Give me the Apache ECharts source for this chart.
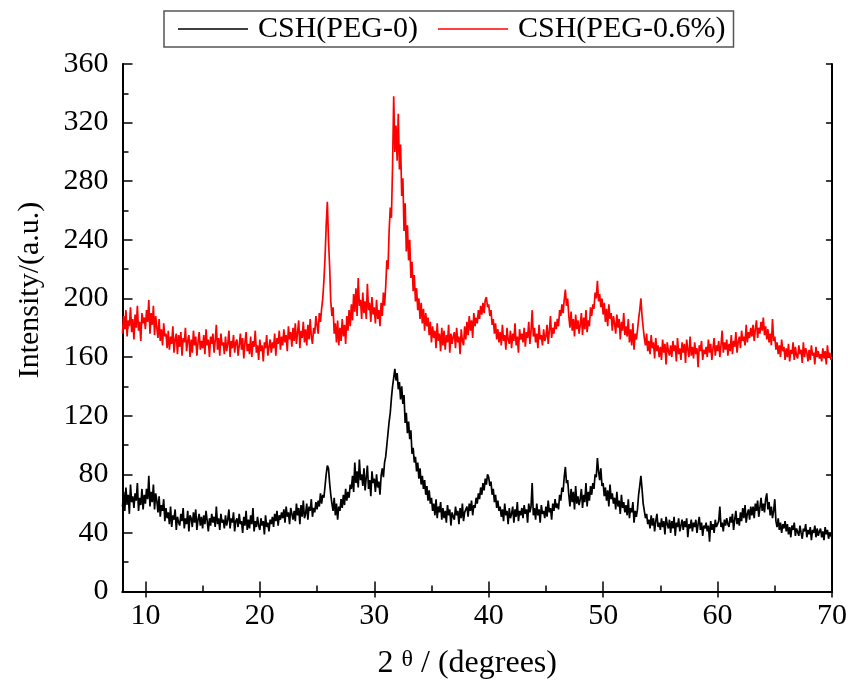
<!DOCTYPE html>
<html>
<head>
<meta charset="utf-8">
<script src="https://cdn.jsdelivr.net/npm/echarts@6/dist/echarts.min.js"></script>
<style>
  html, body { margin: 0; padding: 0; background: #fff; }
  #chart { width: 851px; height: 680px; }
</style>
</head>
<body>
<div id="chart"></div>
<script>
// 2theta sampling: start 8, step 0.1, up to 70
var xStart = 8
var xStep = 0.1

var xTicks = [10, 20, 30, 40, 50, 60, 70]
var xMinorTicks = [15, 25, 35, 45, 55, 65]
var yTicks = [0, 40, 80, 120, 160, 200, 240, 280, 320, 360]

var seriesNames = ['CSH(PEG-0)', 'CSH(PEG-0.6%)']

// CSH(PEG-0), 10 points per degree
var peg0 = [
  58,68,55,71,60,66,53,73,61,65,
  57,67,62,74,55,64,59,70,56,66,
  60,70,63,79,58,68,61,73,56,67,
  62,54,65,51,59,55,63,48,57,50,
  54,46,58,44,52,49,56,42,51,47,
  45,53,48,57,43,50,46,55,41,52,
  50,44,54,47,56,42,49,53,45,51,
  43,52,46,55,48,41,50,45,53,47,
  51,44,58,46,50,42,53,47,49,43,
  52,45,49,56,43,50,47,54,41,48,
  50,44,53,46,48,40,51,45,55,42,
  49,43,52,46,57,41,48,44,51,45,
  42,50,45,48,39,52,44,47,41,49,
  46,51,44,53,48,55,45,52,49,54,
  50,56,47,58,51,54,46,57,53,49,
  55,48,60,52,57,46,59,51,62,50,
  53,60,49,58,55,63,51,57,54,61,
  56,62,58,67,60,66,64,72,80,86,
  84,74,66,60,55,64,52,60,49,58,
  55,63,57,66,59,70,62,68,64,73,
  70,79,68,88,74,82,71,90,76,80,
  72,84,69,78,86,70,76,65,82,74,
  77,68,80,71,75,66,79,84,78,88,
  92,100,108,116,122,132,140,146,152,144,
  149,138,143,131,140,128,134,115,122,108,
  116,104,110,94,98,88,92,82,88,77,
  84,73,79,70,76,66,72,62,69,60,
  64,55,60,52,63,50,58,54,61,49,
  57,50,55,47,59,52,56,45,54,51,
  49,58,52,55,46,57,50,60,48,54,
  53,58,51,60,55,62,52,59,57,64,
  60,67,63,71,66,74,69,77,73,80,
  78,72,75,66,70,61,66,57,62,55,
  58,51,56,48,60,52,55,46,57,50,
  53,58,47,56,51,61,48,55,52,57,
  50,59,53,56,47,60,54,58,74,52,
  57,49,60,52,56,47,59,53,55,50,
  58,51,62,54,57,49,60,55,63,57,
  60,56,66,62,71,68,78,85,74,76,
  66,58,70,61,68,56,72,60,65,59,
  63,70,57,66,61,74,58,68,62,72,
  66,74,70,80,78,91,82,76,84,72,
  74,65,71,62,69,58,73,63,67,60,
  64,56,68,58,62,53,66,57,61,54,
  59,52,63,50,57,54,61,47,55,51,
  56,66,72,79,70,60,55,50,53,46,
  49,43,52,45,50,41,48,53,44,47,
  42,50,44,48,39,51,46,43,49,40,
  48,43,51,38,47,44,50,41,45,49,
  42,48,44,50,37,46,43,49,41,47,
  44,49,40,46,51,42,47,38,45,43,
  47,41,45,34,48,42,46,40,49,44,
  43,48,58,44,47,41,49,45,50,46,
  44,51,47,53,42,49,55,46,50,45,
  54,48,57,50,59,47,53,56,49,58,
  52,58,50,60,55,62,51,57,64,55,
  60,54,63,67,56,61,52,58,50,55,
  63,48,44,50,42,47,40,46,43,48,
  41,46,39,44,37,45,42,47,38,43,
  44,38,45,40,36,43,41,46,37,42,
  39,44,35,42,40,45,37,43,38,41,
  43,37,41,35,44,39,42,36,40,38,
  37
]

// CSH(PEG-0.6%), 10 points per degree
var peg06 = [
  176,188,179,192,174,185,181,194,177,186,
  172,189,180,195,178,184,171,190,183,187,
  179,192,184,199,176,190,182,195,175,188,
  180,173,186,171,179,168,183,174,176,166,
  178,165,174,169,181,163,172,176,162,175,
  167,177,161,173,170,180,164,171,175,160,
  172,163,178,168,174,161,170,177,165,171,
  166,175,162,179,168,172,160,174,169,176,
  163,171,182,165,173,161,176,168,170,162,
  174,164,169,178,160,171,166,175,163,170,
  172,161,168,176,165,173,159,170,177,164,
  169,162,174,160,171,167,178,163,168,158,
  172,164,168,157,170,166,175,161,167,172,
  163,170,166,176,161,173,169,178,165,174,
  168,179,170,175,164,181,172,177,167,180,
  171,183,169,177,185,166,178,173,184,170,
  179,168,182,172,186,174,169,180,176,188,
  182,176,190,184,193,200,212,228,250,266,
  240,222,198,188,194,176,183,170,185,168,
  180,171,186,174,182,169,188,178,192,181,
  196,185,203,191,207,188,214,195,199,186,
  204,190,198,186,210,192,197,184,201,189,
  194,183,199,186,192,181,197,188,204,195,
  208,226,220,246,262,255,290,338,300,318,
  294,326,288,305,270,282,246,265,232,250,
  226,240,214,225,205,216,198,207,192,200,
  186,197,183,193,178,190,181,187,175,184,
  170,181,173,178,166,183,171,176,164,180,
  168,178,165,175,170,182,163,176,169,174,
  177,166,180,170,174,162,179,171,168,181,
  172,184,175,188,178,185,173,190,181,187,
  183,192,186,195,189,197,190,199,201,194,
  196,188,192,182,186,176,183,172,179,170,
  177,168,182,171,175,165,180,172,169,178,
  166,176,171,183,168,174,163,179,172,176,
  170,180,167,177,173,184,169,178,192,174,
  180,170,176,166,182,172,175,168,179,171,
  174,182,169,178,188,173,180,176,184,179,
  186,181,192,188,196,190,199,206,195,200,
  188,180,191,178,186,174,189,179,185,176,
  182,190,175,187,179,192,177,185,181,194,
  188,196,193,204,200,212,198,203,194,200,
  189,197,184,193,181,196,186,190,178,188,
  183,176,189,180,186,172,184,178,190,175,
  181,174,186,170,179,168,183,165,176,172,
  178,186,192,200,188,180,173,168,176,164,
  171,162,175,166,170,159,173,164,168,160,
  167,158,172,163,169,155,170,164,161,168,
  160,171,164,168,157,173,162,166,158,170,
  163,169,156,172,165,160,174,161,167,159,
  170,162,166,153,168,164,171,158,165,162,
  167,160,172,163,169,158,166,173,161,168,
  164,171,160,168,178,163,170,165,172,161,
  169,164,175,162,171,167,177,163,170,174,
  166,178,171,174,168,182,170,177,173,180,
  174,182,171,179,185,173,180,176,184,178,
  187,175,181,172,179,170,176,168,186,171,
  174,165,170,162,168,160,172,164,167,158,
  166,160,169,157,165,162,170,158,167,161,
  159,168,162,165,156,170,160,166,163,157,
  165,158,168,161,163,155,167,160,164,159,
  162,157,166,159,164,155,168,160,163,158,
  160
]

function pairs(vals) {
  return vals.map(function (v, i) {
    return [+(xStart + i * xStep).toFixed(1), v]
  })
}

var font = '"Liberation Serif", "Times New Roman", serif'
var black = '#000'

var myChart = echarts.init(document.getElementById('chart'))
myChart.setOption({
  animation: false,
  backgroundColor: '#fff',
  grid: { left: 122.5, top: 64, right: 19, bottom: 88.5, outerBoundsMode: 'none' },
  legend: {
    data: seriesNames,
    left: 164,
    top: 11,
    borderColor: '#555',
    borderWidth: 1.5,
    padding: [3, 8, 3, 14],
    icon: 'rect',
    itemWidth: 70,
    itemHeight: 1.5,
    itemGap: 20,
    textStyle: { fontFamily: font, fontSize: 30, color: black, padding: [0, 0, 0, 5] }
  },
  xAxis: [
    {
      type: 'value', min: 8, max: 70, position: 'bottom',
      axisLine: { onZero: false, lineStyle: { color: black, width: 2 } },
      axisTick: { inside: true, length: 10, lineStyle: { color: black, width: 1.5 }, customValues: xTicks },
      axisLabel: { customValues: xTicks, fontFamily: font, fontSize: 30, color: black, margin: 10 },
      splitLine: { show: false },
      name: '2 {t|θ} / (degrees)',
      nameLocation: 'middle',
      nameGap: 56,
      nameTextStyle: { fontFamily: font, fontSize: 32, color: black, padding: [0, 20, 0, 0],
        rich: { t: { fontFamily: font, fontSize: 24, color: black, padding: [0, 0, 8, 0] } } }
    },
    {
      type: 'value', min: 8, max: 70, position: 'bottom',
      axisLine: { show: false },
      axisTick: { inside: true, length: 6, lineStyle: { color: black, width: 1.5 }, customValues: xMinorTicks },
      axisLabel: { show: false },
      splitLine: { show: false }
    },
    {
      type: 'value', min: 8, max: 70, position: 'top',
      axisLine: { lineStyle: { color: black, width: 2 } },
      axisTick: { inside: true, length: 6, lineStyle: { color: black, width: 1.5 }, customValues: xTicks },
      axisLabel: { show: false },
      splitLine: { show: false }
    }
  ],
  yAxis: [
    {
      type: 'value', min: 0, max: 360, interval: 40, position: 'left',
      axisLine: { lineStyle: { color: black, width: 2 } },
      axisTick: { inside: true, length: 10, lineStyle: { color: black, width: 1.5 } },
      minorTick: { show: true, splitNumber: 2, length: 6, lineStyle: { color: black, width: 1.5 } },
      axisLabel: { fontFamily: font, fontSize: 30, color: black, margin: 14,
        formatter: function (v) { return yTicks.indexOf(v) >= 0 ? String(v) : '' } },
      splitLine: { show: false }
    },
    {
      type: 'value', min: 0, max: 360, interval: 40, position: 'right',
      axisLine: { lineStyle: { color: black, width: 2 } },
      axisTick: { inside: true, length: 6, lineStyle: { color: black, width: 1.5 } },
      axisLabel: { show: false },
      splitLine: { show: false }
    }
  ],
  graphic: [
    {
      type: 'text',
      x: 30, y: 290,
      rotation: Math.PI / 2,
      style: { text: 'Intensity/(a.u.)', font: '30px ' + font, fill: black, align: 'center', verticalAlign: 'middle' }
    }
  ],
  series: [
    {
      name: seriesNames[0], type: 'line', xAxisIndex: 0, yAxisIndex: 0,
      symbol: 'none', color: '#000',
      lineStyle: { width: 1.7, color: '#000' },
      data: pairs(peg0)
    },
    {
      name: seriesNames[1], type: 'line', xAxisIndex: 0, yAxisIndex: 0,
      symbol: 'none', color: '#ff0000',
      lineStyle: { width: 1.7, color: '#ff0000' },
      data: pairs(peg06)
    }
  ]
})
</script>
</body>
</html>
